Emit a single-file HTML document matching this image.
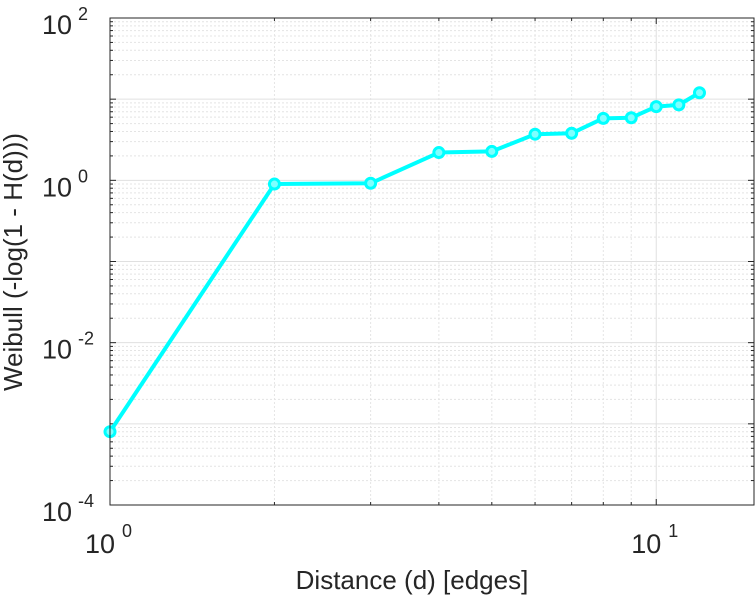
<!DOCTYPE html>
<html><head><meta charset="utf-8"><style>
html,body{margin:0;padding:0;background:#fff;}
svg{display:block;font-family:"Liberation Sans",sans-serif;}
</style></head><body>
<svg id="chart" width="756" height="600" viewBox="0 0 756 600" xmlns="http://www.w3.org/2000/svg">
<g id="grid"></g>
<g id="ticks"></g>
<g id="series"></g>
<rect x="110" y="18" width="644" height="487" fill="none" stroke="#262626" stroke-width="1"/>
<text x="412" y="589" font-size="26" text-anchor="middle" fill="#262626">Distance (d) [edges]</text>
<text transform="translate(22,262) rotate(-90)" font-size="26" text-anchor="middle" fill="#262626">Weibull (-log(1 - H(d)))</text>
</svg>
<script>
const distances=[1,2,3,4,5,6,7,8,9,10,11,12];
const weibullValues=[0.0008,0.9,0.92,2.2,2.27,3.7,3.8,5.8,5.9,8.1,8.5,12];
const xTickExps=[0,1];
const yTickExps=[-4,-2,0,2];
const L=110,R=754,T=18,B=505;
const xMin=0,xMax=Math.log10(15.1),yMin=-4,yMax=2;
const NS="http://www.w3.org/2000/svg";
function xs(v){return L+(Math.log10(v)-xMin)/(xMax-xMin)*(R-L);}
function ys(v){return B-(Math.log10(v)-yMin)/(yMax-yMin)*(B-T);}
function mk(t,a,p){const e=document.createElementNS(NS,t);for(const k in a)e.setAttribute(k,a[k]);p.appendChild(e);return e;}
const grid=document.getElementById('grid'),ticks=document.getElementById('ticks'),ser=document.getElementById('series');
for(let e=-4;e<2;e++){for(let m=1;m<10;m++){const v=m*Math.pow(10,e);const y=ys(v);
 const ln=mk('line',{x1:L,x2:R,y1:y,y2:y,stroke:m===1?'#e0e0e0':'#e4e4e4','stroke-width':1,'stroke-dasharray':m===1?'':'2,2'},grid);
 
 
 const len=m===1?6:3;
 mk('line',{x1:L,x2:L+len,y1:y,y2:y,stroke:'#262626'},ticks);mk('line',{x1:R,x2:R-len,y1:y,y2:y,stroke:'#262626'},ticks);
}}
for(let e=0;e<2;e++){for(let m=1;m<10;m++){const v=m*Math.pow(10,e);if(Math.log10(v)>xMax)continue;const x=xs(v);
 const ln=mk('line',{x1:x,x2:x,y1:T,y2:B,stroke:m===1?'#e0e0e0':'#e4e4e4','stroke-width':1,'stroke-dasharray':m===1?'':'2,2'},grid);
 
 
 const len=m===1?6:3;
 mk('line',{x1:x,x2:x,y1:B,y2:B-len,stroke:'#262626'},ticks);mk('line',{x1:x,x2:x,y1:T,y2:T+len,stroke:'#262626'},ticks);
}}
for(const e of yTickExps){const y=ys(Math.pow(10,e));
 const t=mk('text',{x:72,y:y+16,'font-size':27,'text-anchor':'end',fill:'#262626'},ticks);
 
 
 t.textContent='10';
 const s=mk('text',{x:78,y:y+2,'font-size':18,fill:'#262626'},ticks);
 
 
 s.textContent=String(e);}
for(const e of xTickExps){const x=xs(Math.pow(10,e));
 const t=mk('text',{x:x-10,y:553,'font-size':27,'text-anchor':'middle',fill:'#262626'},ticks);
 
 
 t.textContent='10';
 const s=mk('text',{x:x+12,y:537,'font-size':18,fill:'#262626'},ticks);
 
 
 s.textContent=String(e);}
const pts=distances.map((d,i)=>xs(d)+','+ys(weibullValues[i])).join(' ');
const pl=mk('polyline',{points:pts,fill:'none',stroke:'#00ffff','stroke-width':4,'stroke-linejoin':'round'},ser);


distances.forEach((d,i)=>{const c=mk('circle',{cx:xs(d),cy:ys(weibullValues[i]),r:5,fill:'#7fffff',stroke:'#00ffff','stroke-width':3},ser);
 
 });
</script>
</body></html>
